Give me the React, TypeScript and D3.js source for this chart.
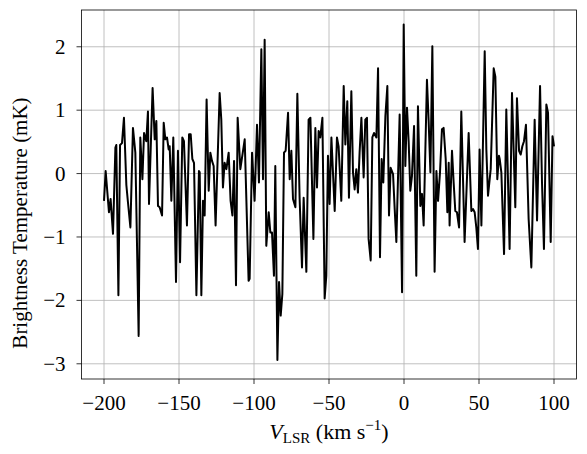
import React from "react";
import * as d3 from "d3";

// Velocity channels (km/s) and brightness temperature (mK)
const velocity: number[] = [
  -200, -198.9, -196.7, -195.6, -194.0, -192.4, -191.8, -190.4, -189.3, -188.0, -186.7, -185.1, -184.0, -182.4, -180.7, -179.1, -176.9, -175.8, -174.4, -173.3, -171.8, -170.7, -170.0,
  -167.6, -166.2, -165.1, -164.0, -162.9, -161.3, -160.2, -159.1, -158.0, -156.9, -156.2, -155.1, -153.8, -152.0, -150.7, -149.3, -147.8, -146.7, -144.7, -143.3, -142.2, -141.1, -140.0, -138.4, -136.7,
  -136.2, -135.1, -134.0, -132.9, -131.6, -130.2, -129.1, -128.0, -126.9, -125.6, -122.9, -121.8, -120.7, -119.6, -118.4, -116.9, -115.6, -114.4, -113.3, -112.0, -110.9, -109.1, -106.2, -103.6,
  -102.9, -101.3, -99.6, -98.0, -96.7, -95.1, -94.0, -92.9, -91.8, -90.2, -89.1, -88.0, -86.7, -85.8, -84.4, -83.3, -82.2, -81.1, -80.0, -78.9, -77.3, -76.2, -75.1, -74.0, -72.4, -71.1, -69.6,
  -68.0, -66.9, -65.1, -63.6, -62.4, -60.4, -59.1, -58.0, -56.9, -55.8, -54.4, -52.9, -51.8, -50.7, -49.6, -48.4, -46.2, -44.7, -43.6, -41.8, -40.2, -39.1, -37.8, -36.7,
  -35.1, -34.0, -32.9, -31.8, -30.7, -29.6, -28.4, -26.9, -25.8, -24.7, -23.6, -22.2, -21.1, -20.0, -18.4, -17.3, -16.0, -14.9, -13.8, -12.4, -11.1, -10.0, -8.9, -7.3, -6.2, -5.1, -2.9,
  -1.3, -0.2, 0.9, 2.0, 3.1, 4.2, 5.3, 6.7, 8.2, 9.3, 10.9, 12.0, 13.1, 15.3, 16.4, 17.6, 18.9, 20.4, 21.6, 22.7, 24.0, 25.3, 26.4, 27.8, 28.9, 29.8,
  30.4, 32.0, 33.1, 34.2, 35.3, 36.7, 38.2, 40.4, 43.1, 44.9, 46.0, 47.1, 48.2, 49.3, 50.4, 51.6, 53.8, 54.9, 56.0, 57.8, 59.8, 60.9, 62.2, 63.3,
  63.8, 64.9, 66.7, 68.2, 70.4, 72.0, 74.2, 75.3, 76.7, 77.8, 78.9, 80.0, 81.3, 83.1, 84.9, 87.1, 88.7, 90.7, 92.0, 93.3, 94.9, 96.0, 97.8, 99.0, 100.0,
];

const brightness: number[] = [
  -0.43, 0.04, -0.61, -0.40, -0.95, 0.41, 0.45, -1.92, 0.45, 0.48, 0.88, -0.18, -0.46, -0.85, 0.72, 0.33, -2.56, 0.57, -0.09, 0.64, 0.51, 0.98, -0.48,
  1.35, 0.54, 0.83, -0.51, -0.53, -0.66, 0.80, 0.54, 0.57, 0.38, 0.43, -0.43, 0.57, -1.71, 0.36, -1.40, 0.57, 0.51, -0.82, 0.62, 0.62, 0.23, 0.17, -1.92, 0.04,
  0.02, -1.92, -0.43, -0.66, 1.17, -0.27, 0.33, 0.20, 0.12, -0.82, 1.27, 0.85, -0.22, 0.17, 0.07, 0.33, -0.43, -0.66, 0.20, -1.76, 0.88, 0.07, 0.54, -1.69,
  -1.66, 0.33, -0.43, 0.77, -0.14, 1.96, -0.09, 2.11, -1.14, -0.61, -0.93, -0.93, -1.61, 0.12, -2.94, -1.71, -2.24, -1.90, 0.33, 0.36, 0.96, -0.09, 0.36, -0.40, -0.53, 1.26, -0.38,
  -1.48, -0.38, -1.55, 0.85, 0.88, -1.03, 0.72, -0.22, 0.67, 0.57, 0.88, -1.97, -1.61, 0.28, -0.48, 0.57, -0.59, 0.57, 0.43, -0.43, 1.38, 0.46, 1.14, -0.38,
  1.30, 0.02, -0.25, 0.07, -0.30, 0.33, 0.88, -0.06, 0.85, 0.88, -1.03, -1.37, 0.57, 0.64, 0.57, 1.66, -1.32, 0.23, -0.14, 0.91, 1.38, -0.66, 0.09, -0.01, -0.56, -1.08, 0.93,
  -1.87, 2.35, 0.12, 1.04, 0.51, -0.27, -0.04, 0.75, -1.61, 1.06, -0.51, -0.32, -0.82, 1.48, 0.85, 0.02, 2.01, -1.55, 0.04, -0.43, 0.02, 0.70, 0.72, 0.23, -0.61, 0.17,
  -0.82, 0.36, -0.14, -0.59, -0.61, -0.85, 0.98, -1.08, 0.64, -0.59, -0.56, -0.61, -0.85, -1.19, 0.38, -0.82, 1.93, 0.38, -0.35, 0.07, 1.66, 1.53, -0.09, 0.28,
  0.23, 0.02, -1.27, 1.01, -1.19, 1.27, -0.53, 1.19, 0.36, 0.30, 0.43, 0.51, 0.77, -0.72, -1.48, 0.85, -0.74, 1.38, -0.14, -1.19, 1.09, 0.96, -1.08, 0.59, 0.43,
];

const xTicks: number[] = [-200, -150, -100, -50, 0, 50, 100];
const yTicks: number[] = [-3, -2, -1, 0, 1, 2];

const W = 587;
const H = 454;
const margin = { left: 81.5, right: 10.5, top: 10, bottom: 75 };
const FONT = "'Liberation Serif', 'DejaVu Serif', serif";

const fmt = (v: number) => (v < 0 ? "\u2212" + Math.abs(v) : String(v));

export default function App() {
  const x = d3.scaleLinear().domain([-215, 115]).range([margin.left, W - margin.right]);
  const y = d3.scaleLinear().domain([-3.24, 2.58]).range([H - margin.bottom, margin.top]);
  const pts: [number, number][] = velocity.map((v, i) => [v, brightness[i]]);
  const line = d3
    .line<[number, number]>()
    .x((d) => x(d[0]))
    .y((d) => y(d[1]));

  const x0 = x.range()[0];
  const x1 = x.range()[1];
  const y0 = y.range()[0];
  const y1 = y.range()[1];

  return (
    <svg
      width={W}
      height={H}
      style={{ position: "absolute", left: 0, top: 0, background: "#fff" }}
      fontFamily={FONT}
    >
      <rect x={0} y={0} width={W} height={H} fill="#fff" />
      {/* grid */}
      {xTicks.map((t) => (
        <line key={"gx" + t} x1={x(t)} x2={x(t)} y1={y0} y2={y1} stroke="#b0b0b0" strokeWidth={0.8} />
      ))}
      {yTicks.map((t) => (
        <line key={"gy" + t} x1={x0} x2={x1} y1={y(t)} y2={y(t)} stroke="#b0b0b0" strokeWidth={0.8} />
      ))}
      {/* data */}
      <path d={line(pts) || ""} fill="none" stroke="#000" strokeWidth={2} strokeLinejoin="round" />
      {/* frame */}
      <rect x={x0} y={y1} width={x1 - x0} height={y0 - y1} fill="none" stroke="#000" strokeWidth={0.8} />
      {/* x ticks */}
      {xTicks.map((t) => (
        <g key={"tx" + t}>
          <line x1={x(t)} x2={x(t)} y1={y0} y2={y0 + 5} stroke="#000" strokeWidth={0.8} />
          <text x={x(t)} y={y0 + 31} textAnchor="middle" fontSize={21} fill="#000">
            {fmt(t)}
          </text>
        </g>
      ))}
      {/* y ticks */}
      {yTicks.map((t) => (
        <g key={"ty" + t}>
          <line x1={x0 - 5} x2={x0} y1={y(t)} y2={y(t)} stroke="#000" strokeWidth={0.8} />
          <text x={x0 - 16} y={y(t) + 7} textAnchor="end" fontSize={21} fill="#000">
            {fmt(t)}
          </text>
        </g>
      ))}
      {/* x label */}
      <text x={(x0 + x1) / 2} y={y0 + 60} textAnchor="middle" fontSize={22} fill="#000">
        <tspan fontStyle="italic">V</tspan>
        <tspan fontSize={15} dy={4}>LSR</tspan>
        <tspan dy={-4}> (km s</tspan>
        <tspan fontSize={15} dy={-9}>{"\u22121"}</tspan>
        <tspan dy={9}>)</tspan>
      </text>
      {/* y label */}
      <text
        transform={`translate(27, 223) rotate(-90)`}
        textAnchor="middle"
        fontSize={21}
        fill="#000"
      >
        Brightness Temperature (mK)
      </text>
    </svg>
  );
}
